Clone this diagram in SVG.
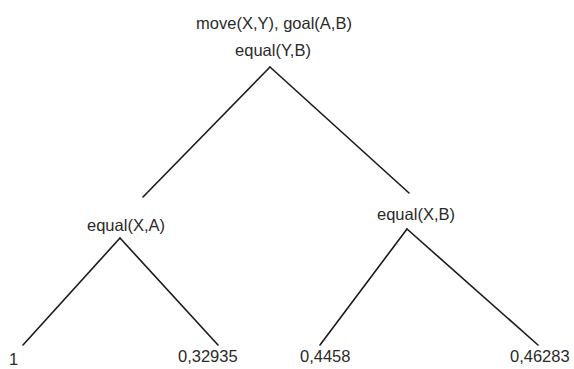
<svg xmlns="http://www.w3.org/2000/svg" width="574" height="369" viewBox="0 0 574 369">
  <style>
    .edge { stroke: #1a1a1a; stroke-width: 1.6; fill: none; stroke-linecap: round; }
    .lbl { font-family: "Liberation Sans", Arial, sans-serif; font-size: 16.5px; fill: #2a2a2a; }
    .mid { text-anchor: middle; }
  </style>
  <rect width="574" height="369" fill="#ffffff"/>

  <g id="connectors">
    <line class="edge" x1="270" y1="67" x2="143" y2="197"/>
    <line class="edge" x1="270" y1="67" x2="409" y2="193"/>
    <line class="edge" x1="120" y1="238" x2="23" y2="345"/>
    <line class="edge" x1="120" y1="238" x2="218" y2="345"/>
    <line class="edge" x1="407" y1="229" x2="320" y2="345"/>
    <line class="edge" x1="407" y1="229" x2="538" y2="345"/>
  </g>

  <g id="root">
    <text class="lbl mid" x="274" y="29">move(X,Y), goal(A,B)</text>
    <text class="lbl mid" x="273" y="56">equal(Y,B)</text>
  </g>

  <g id="node-equal-XA">
    <text class="lbl mid" x="126" y="231">equal(X,A)</text>
  </g>

  <g id="node-equal-XB">
    <text class="lbl mid" x="416" y="220">equal(X,B)</text>
  </g>

  <g id="leaf-1">
    <text class="lbl" x="9" y="365">1</text>
  </g>
  <g id="leaf-0-32935">
    <text class="lbl" x="178" y="362">0,32935</text>
  </g>
  <g id="leaf-0-4458">
    <text class="lbl" x="300" y="362">0,4458</text>
  </g>
  <g id="leaf-0-46283">
    <text class="lbl" x="510" y="362">0,46283</text>
  </g>
</svg>
